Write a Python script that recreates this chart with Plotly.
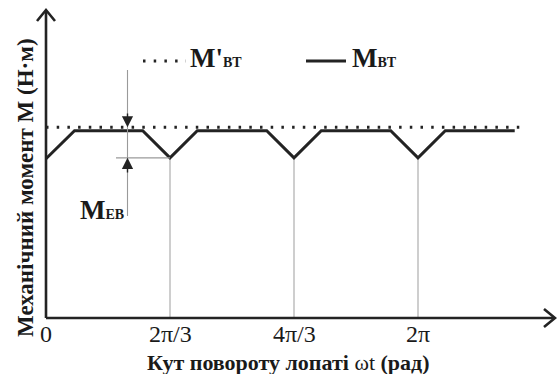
import math
import plotly.graph_objects as go

PI = math.pi
U = 2 * PI / 3  # one third of a revolution

# ---- data (x in units of 2π/3, y in relative torque units) ----
curve_x_units = [0, 0.23, 0.78, 1.0, 1.22, 1.78, 2.0, 2.22, 2.78, 3.0, 3.22, 3.78]
curve_y = [0.85, 1.0, 1.0, 0.855, 1.0, 1.0, 0.855, 1.0, 1.0, 0.855, 1.0, 1.0]
ref_x_units = [0, 3.86]
ref_y = [1.018, 1.018]
tick_units = [0, 1, 2, 3]
tick_text = ["0", "2π/3", "4π/3", "2π"]
min_level = 0.855

# ---- pixel <-> data helpers (layout only) ----
W, H = 557, 374
OX, OY = 46, 318
PX_PER_RAD = 124 / U
PX_PER_M = 187.3
X0 = -OX / PX_PER_RAD
X1 = X0 + W / PX_PER_RAD
Y0 = -(H - OY) / PX_PER_M
Y1 = OY / PX_PER_M


def px(p):
    return X0 + p / PX_PER_RAD


def py(p):
    return (OY - p) / PX_PER_M


SERIF = "Liberation Serif"
DARK = "#232323"
GRAY = "#b4b4b4"

curve_x = [u * U for u in curve_x_units]
ref_x = [u * U for u in ref_x_units]

fig = go.Figure()
fig.add_trace(go.Scatter(x=ref_x, y=ref_y, mode="lines",
                         line=dict(color=DARK, width=3, dash="2.5px,8.2px"),
                         hoverinfo="skip", showlegend=False))

shapes = []
# gray drop lines at tick positions
for u in tick_units[1:]:
    shapes.append(dict(type="line", xref="x", yref="y", x0=u * U, x1=u * U,
                       y0=0, y1=min_level, line=dict(color=GRAY, width=1.3), layer="below"))
# dimension lines
shapes.append(dict(type="line", xref="x", yref="y", x0=px(127.5), x1=px(127.5),
                   y0=py(70), y1=py(216), line=dict(color="#9a9a9a", width=1.1)))
shapes.append(dict(type="line", xref="x", yref="y", x0=px(116), x1=U,
                   y0=min_level, y1=min_level, line=dict(color="#9a9a9a", width=1.1)))
# axes
shapes.append(dict(type="line", xref="x", yref="y", x0=0, x1=px(554), y0=0, y1=0,
                   line=dict(color=DARK, width=2.6)))
shapes.append(dict(type="line", xref="x", yref="y", x0=0, x1=0, y0=0, y1=py(11),
                   line=dict(color=DARK, width=2.6)))
# arrow chevrons
shapes.append(dict(type="path", xref="x", yref="y",
                   path=f"M {px(544)},{py(309)} L {px(555)},{py(318)} L {px(544)},{py(327)}",
                   line=dict(color=DARK, width=2.6)))
shapes.append(dict(type="path", xref="x", yref="y",
                   path=f"M {px(37)},{py(21)} L {px(46)},{py(10)} L {px(55)},{py(21)}",
                   line=dict(color=DARK, width=2.6)))
# legend line samples
shapes.append(dict(type="line", xref="x", yref="y", x0=px(306), x1=px(346), y0=py(61), y1=py(61),
                   line=dict(color=DARK, width=3)))

fig.add_trace(go.Scatter(x=[px(143), px(186)], y=[py(61), py(61)], mode="lines",
                         line=dict(color=DARK, width=3, dash="2.5px,8.2px"),
                         hoverinfo="skip", showlegend=False))
fig.add_trace(go.Scatter(x=curve_x, y=curve_y, mode="lines",
                         line=dict(color=DARK, width=3),
                         hoverinfo="skip", showlegend=False))

ann = []
# dimension arrowheads
ann.append(dict(x=px(127.5), y=ref_y[0], ax=px(127.5), ay=py(112), xref="x", yref="y",
                axref="x", ayref="y", showarrow=True, arrowhead=2, arrowsize=1.6,
                arrowwidth=1.4, arrowcolor=DARK, text=""))
ann.append(dict(x=px(127.5), y=min_level, ax=px(127.5), ay=py(174), xref="x", yref="y",
                axref="x", ayref="y", showarrow=True, arrowhead=2, arrowsize=1.6,
                arrowwidth=1.4, arrowcolor=DARK, text=""))
# tick labels
for u, t in zip(tick_units, tick_text):
    ann.append(dict(x=u * U, y=py(334), xref="x", yref="y", text=t, showarrow=False,
                    font=dict(family=SERIF, size=24, color="#1a1a1a"),
                    xanchor="center", yanchor="middle"))
# axis titles
ann.append(dict(x=px(288), y=py(362), xref="x", yref="y", showarrow=False,
                text="<b>Кут повороту лопаті</b> ωt <b>(рад)</b>",
                font=dict(family=SERIF, size=22, color="#1a1a1a"),
                xanchor="center", yanchor="middle"))
ann.append(dict(x=px(25), y=py(188), xref="x", yref="y", showarrow=False,
                text="<b>Механічний момент М (Н·м)</b>", textangle=-90,
                font=dict(family=SERIF, size=23, color="#1a1a1a"),
                xanchor="center", yanchor="middle"))
# legend / labels
ann.append(dict(x=px(188), y=py(58), xref="x", yref="y", showarrow=False,
                text="<b>М'<span style='font-size:14px'>ВТ</span></b>",
                font=dict(family=SERIF, size=27, color="#1a1a1a"),
                xanchor="left", yanchor="middle"))
ann.append(dict(x=px(350), y=py(58), xref="x", yref="y", showarrow=False,
                text="<b>М<span style='font-size:14px'>ВТ</span></b>",
                font=dict(family=SERIF, size=27, color="#1a1a1a"),
                xanchor="left", yanchor="middle"))
ann.append(dict(x=px(78), y=py(210), xref="x", yref="y", showarrow=False,
                text="<b>М<span style='font-size:14px'>ЕВ</span></b>",
                font=dict(family=SERIF, size=27, color="#1a1a1a"),
                xanchor="left", yanchor="middle"))

fig.update_layout(
    width=W, height=H, margin=dict(l=0, r=0, t=0, b=0),
    paper_bgcolor="white", plot_bgcolor="white",
    xaxis=dict(range=[X0, X1], visible=False, fixedrange=True),
    yaxis=dict(range=[Y0, Y1], visible=False, fixedrange=True),
    shapes=shapes, annotations=ann, showlegend=False,
)

fig.write_html("out.html", config={"displayModeBar": False})
